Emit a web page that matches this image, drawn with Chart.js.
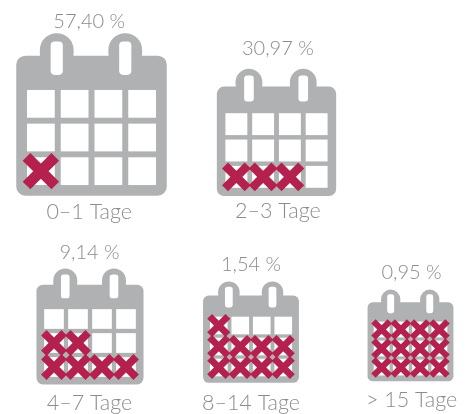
<!DOCTYPE html>
<html lang="de">
<head>
  <meta charset="UTF-8">
  <title>Tage</title>
  <style>
    * { margin: 0; padding: 0; }
    html, body { width: 466px; height: 414px; overflow: hidden; background: #fff; }
    canvas { position: absolute; }
  </style>
</head>
<body>
  <script src="https://cdn.jsdelivr.net/npm/chart.js"></script>
  <script>
    // chart values
    const categories = ['0–1 Tage', '2–3 Tage', '4–7 Tage', '8–14 Tage', '> 15 Tage'];
    const shares = [57.40, 30.97, 9.14, 1.54, 0.95];
    const crossedDays = [1, 3, 6, 9, 12];

    const COLS = 4, ROWS = 3;
    const GREY = '#b0b1b3', RED = '#b5214e', TEXT = '#8b8c8e';

    // where each calendar sits in the page: plot area of the cell grid + text anchors
    const frames = [
      { l: 23.8, t: 87.3, r: 159.2, b: 188.2, textX: 89, shareY: 22, labelY: 212 },
      { l: 223.1, t: 110.6, r: 329.9, b: 189.9, textX: 278, shareY: 48, labelY: 211 },
      { l: 41.5, t: 307, r: 137.5, b: 378.5, textX: 89, shareY: 253, labelY: 403 },
      { l: 208, t: 314.7, r: 294, b: 378, textX: 251, shareY: 264, labelY: 403 },
      { l: 372.4, t: 319.7, r: 449.6, b: 376.6, textX: 412, shareY: 272, labelY: 400 }
    ];
    const PAD_X = 20, PAD_TOP = 80, PAD_BOTTOM = 36;

    // calendar shape in cell units, so it scales with the grid
    const calendarPlugin = {
      id: 'calendar',
      beforeDatasetsDraw(chart) {
        const { ctx, scales: { x, y } } = chart;
        const px = v => x.getPixelForValue(v), py = v => y.getPixelForValue(v);
        const pitch = x.width / COLS;
        const box = (x0, y0, x1, y1, r, color) => {
          ctx.fillStyle = color;
          ctx.beginPath();
          ctx.roundRect(px(x0), py(y0), px(x1) - px(x0), py(y1) - py(y0), r);
          ctx.fill();
        };
        ctx.save();
        [0.47, 2.5].forEach(c => box(c - 0.5, -2.1, c + 0.5, -1, pitch * 0.5, GREY));
        box(-0.73, -1.43, 3.73, 2.73, pitch * 0.27, GREY);
        [0.47, 2.5].forEach(c => box(c - 0.18, -1.85, c + 0.18, -0.86, pitch * 0.12, '#fff'));
        ctx.restore();
      }
    };

    const textPlugin = {
      id: 'calendarText',
      afterDraw(chart, args, opts) {
        const { ctx } = chart;
        ctx.save();
        ctx.fillStyle = TEXT;
        ctx.textAlign = 'center';
        ctx.textBaseline = 'middle';
        ctx.font = '300 20px Lato, "Open Sans", sans-serif';
        ctx.fillText(opts.share, opts.x, opts.shareY);
        ctx.font = '300 21.5px Lato, "Open Sans", sans-serif';
        ctx.fillText(opts.label, opts.x, opts.labelY);
        ctx.restore();
      }
    };

    categories.forEach((label, i) => {
      const f = frames[i];
      const canvas = document.createElement('canvas');
      const left = f.l - PAD_X, top = f.t - PAD_TOP;
      canvas.width = Math.round(f.r - f.l + PAD_X * 2);
      canvas.height = Math.round(f.b - f.t + PAD_TOP + PAD_BOTTOM);
      canvas.style.left = left + 'px';
      canvas.style.top = top + 'px';
      document.body.appendChild(canvas);

      const cells = [];
      for (let row = 0; row < ROWS; row++) {
        for (let col = 0; col < COLS; col++) cells.push({ x: col, y: row });
      }
      // days get crossed from the bottom row upwards
      const crosses = [];
      for (let d = 0; d < crossedDays[i]; d++) {
        crosses.push({ x: d % COLS, y: ROWS - 1 - Math.floor(d / COLS) });
      }
      const pitch = (f.r - f.l) / COLS;

      new Chart(canvas, {
        type: 'scatter',
        data: {
          datasets: [
            // first dataset is painted last, so the crosses go first
            { data: crosses, clip: false, pointStyle: 'crossRot', pointRadius: pitch * 0.6,
              pointBorderColor: RED, pointBorderWidth: pitch * 0.32 },
            { data: cells, clip: false, pointStyle: 'rect', pointRadius: pitch * 0.58,
              pointBackgroundColor: '#fff', pointBorderWidth: 0 }
          ]
        },
        options: {
          responsive: false,
          animation: false,
          layout: { autoPadding: false, padding: { left: PAD_X, right: PAD_X, top: PAD_TOP, bottom: PAD_BOTTOM } },
          scales: {
            x: { type: 'linear', display: false, min: -0.5, max: COLS - 0.5 },
            y: { type: 'linear', display: false, min: -0.5, max: ROWS - 0.5, reverse: true }
          },
          plugins: {
            legend: { display: false },
            tooltip: { enabled: false },
            calendarText: {
              share: shares[i].toFixed(2).replace('.', ',') + ' %',
              label: label,
              x: f.textX - left,
              shareY: f.shareY - top,
              labelY: f.labelY - top
            }
          }
        },
        plugins: [calendarPlugin, textPlugin]
      });
    });
  </script>
</body>
</html>
